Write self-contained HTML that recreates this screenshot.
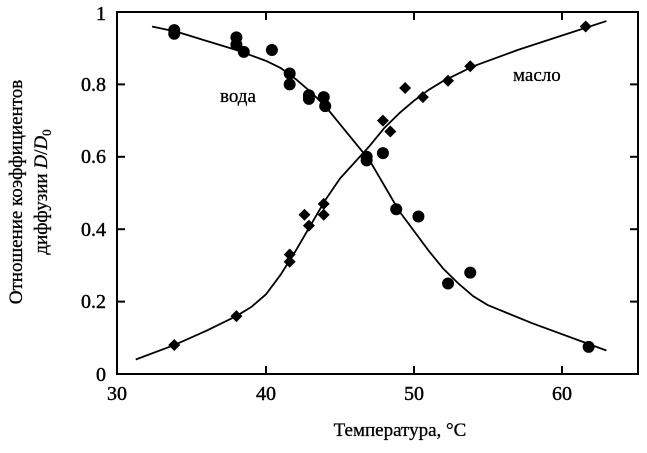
<!DOCTYPE html>
<html><head><meta charset="utf-8"><style>
html,body{margin:0;padding:0;background:#fff;}
svg{display:block;font-family:"Liberation Serif","DejaVu Serif",serif;}
</style></head><body>
<svg id="s" width="647" height="453" viewBox="0 0 647 453" xmlns="http://www.w3.org/2000/svg">
<rect x="117" y="12" width="521" height="362" fill="none" stroke="#000" stroke-width="2"/>
<g font-size="20" text-anchor="middle" fill="#000" stroke="#000" stroke-width="0.4">
<text x="117" y="400">30</text><text x="266" y="400">40</text><text x="414" y="400">50</text><text x="562" y="400">60</text>
</g>
<g font-size="20" text-anchor="end" fill="#000" stroke="#000" stroke-width="0.4">
<text x="106" y="381">0</text><text x="106" y="308">0.2</text><text x="106" y="236">0.4</text><text x="106" y="163">0.6</text><text x="106" y="91">0.8</text><text x="106" y="20">1</text>
</g>
<text x="400" y="436" font-size="19" text-anchor="middle" stroke="#000" stroke-width="0.3">Температура, °C</text>
<g transform="translate(22,192) rotate(-90)" font-size="19" text-anchor="middle" stroke="#000" stroke-width="0.3">
<text x="0" y="0">Отношение коэффициентов</text>
<text x="0" y="25">диффузии <tspan font-style="italic">D</tspan>/<tspan font-style="italic">D</tspan><tspan font-size="13" dy="4">0</tspan></text>
</g>
<text x="220" y="102" font-size="19" stroke="#000" stroke-width="0.3">вода</text>
<text x="513" y="81" font-size="19" stroke="#000" stroke-width="0.3">масло</text>
<g id="g"></g>
</svg>
<script>
var X=t=>118+(t-30)*14.8, Y=v=>374-v*362;
var g=document.getElementById('g'),h='';
[[266,374,266,366],[414,374,414,366],[562,374,562,366],[266,12,266,20],[414,12,414,20],[562,12,562,20]].forEach(a=>h+=`<line x1="${a[0]}" y1="${a[1]}" x2="${a[2]}" y2="${a[3]}" stroke="#000" stroke-width="2"/>`);
[.2,.4,.6,.8].forEach(v=>{h+=`<line x1="117" x2="125" y1="${Y(v)}" y2="${Y(v)}" stroke="#000" stroke-width="2"/><line x1="630" x2="638" y1="${Y(v)}" y2="${Y(v)}" stroke="#000" stroke-width="2"/>`});
function pl(p){return `<polyline fill="none" stroke="#000" stroke-width="1.8" stroke-linejoin="round" points="${p.map(q=>X(q[0])+','+Y(q[1])).join(' ')}"/>`}
h+=pl([[32.3,.96],[34,.945],[36,.92],[38,.895],[40,.865],[41,.845],[42,.815],[43,.78],[44,.74],[45,.69],[46,.64],[47,.59],[48,.52],[49,.45],[50,.395],[51,.34],[52,.29],[53,.25],[54,.215],[55,.19],[58,.14],[61,.095],[63,.065]]);
h+=pl([[31.2,.04],[33.8,.08],[36,.12],[38,.16],[39,.185],[40,.22],[41,.275],[42,.34],[43,.41],[44,.48],[45,.54],[46,.585],[47,.63],[48,.68],[49,.72],[50,.755],[51,.785],[52,.81],[54,.85],[57,.895],[60,.935],[63,.975]]);
[[33.8,.95],[33.8,.94],[38,.93],[38,.91],[38.5,.89],[40.4,.895],[41.6,.83],[41.6,.80],[42.9,.77],[42.9,.76],[43.9,.765],[44,.74],[46.8,.60],[46.8,.59],[47.9,.61],[48.8,.455],[50.3,.435],[52.3,.25],[53.8,.28],[61.8,.075]].forEach(p=>h+=`<circle cx="${X(p[0])}" cy="${Y(p[1])}" r="6" fill="#000"/>`);
[[33.8,.08],[38,.16],[41.6,.33],[41.6,.31],[42.6,.44],[42.9,.41],[43.9,.47],[43.9,.44],[47.9,.70],[48.4,.67],[49.4,.79],[50.6,.765],[52.3,.81],[53.8,.85],[61.6,.96]].forEach(p=>{var x=X(p[0]),y=Y(p[1]);h+=`<polygon points="${x},${y-6} ${x+6},${y} ${x},${y+6} ${x-6},${y}" fill="#000"/>`});
g.innerHTML=h;
</script>
</body></html>
